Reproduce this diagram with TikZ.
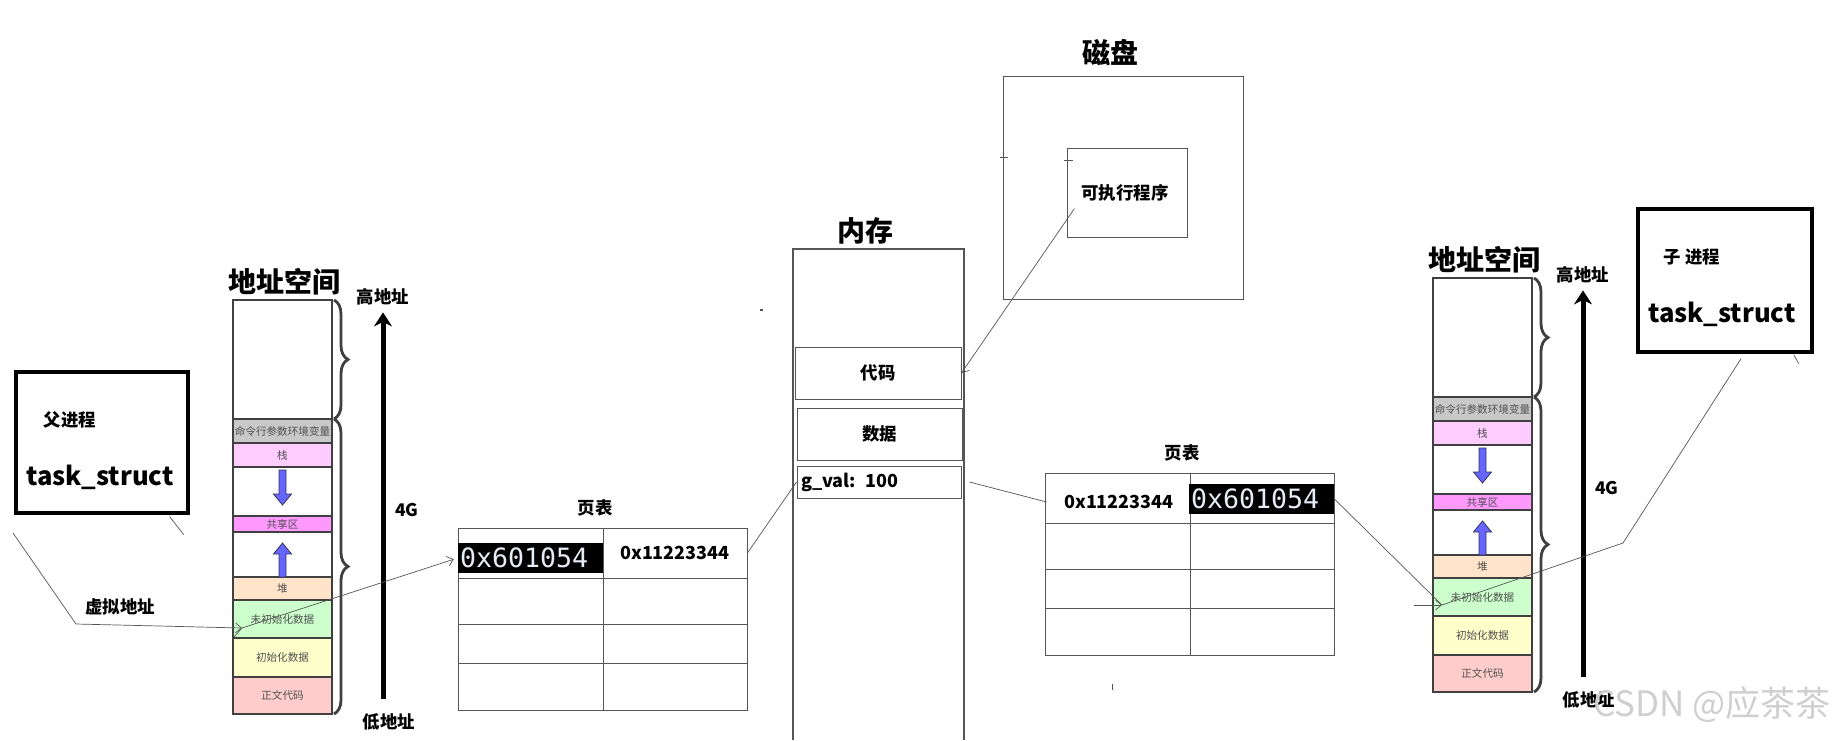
\documentclass[tikz,border=0pt]{standalone}
\usepackage{fontspec}
\setmainfont{Noto Sans CJK SC}
\setmonofont{DejaVu Sans Mono}
\usepackage{tikz}
\usetikzlibrary{positioning,arrows.meta,calc,decorations.pathreplacing}
\definecolor{segline}{HTML}{404040}
\definecolor{segtext}{HTML}{505050}
\definecolor{envgray}{HTML}{C8C8C8}
\definecolor{stackpink}{HTML}{FFCCFF}
\definecolor{sharedpink}{HTML}{FF99FF}
\definecolor{heappeach}{HTML}{FFE4C9}
\definecolor{bssgreen}{HTML}{CCFFCC}
\definecolor{datayellow}{HTML}{FFFFCC}
\definecolor{textred}{HTML}{FFCCCC}
\definecolor{growblue}{HTML}{6666FF}
\definecolor{growedge}{HTML}{33335A}
\definecolor{rule}{HTML}{555555}
\definecolor{hexfg}{HTML}{E6ECF5}
\definecolor{wmgray}{HTML}{CFCFCF}

\tikzset{
  seg/.style={draw=segline,line width=1pt,inner sep=0pt,minimum width=49.5pt,
    font=\fontsize{5.3}{6}\selectfont,text=segtext},
  heading/.style={font=\fontsize{14}{16}\selectfont\bfseries},
  tag/.style={font=\fontsize{8.7}{10}\selectfont\bfseries},
  addr/.style={font=\fontsize{9}{10}\selectfont\bfseries,inner sep=0pt,
    minimum width=72pt,minimum height=25pt},
  bigname/.style={font=\fontsize{12.8}{15}\selectfont\bfseries},
  hex/.style={fill=black,text=hexfg,font=\ttfamily\fontsize{13.3}{15}\selectfont,
    inner xsep=1pt,inner ysep=0pt,text width=70.5pt,align=left,minimum height=15pt},
  link/.style={draw=rule,line width=0.35pt},
  barb/.style={-{Straight Barb[length=3pt,width=5pt]}},
  addrarrow/.style={line width=2.5pt,-{Stealth[length=7pt,width=9pt]}},
  growarrow/.style={fill=growblue,draw=growedge,line width=0.4pt},
  curly/.style={draw=segline,line width=1.4pt,decorate,decoration={brace,amplitude=7pt}},
  taskbox/.style={draw,line width=1.7pt,inner sep=0pt},
  plainbox/.style={draw=rule,line width=0.5pt,inner sep=0pt},
}

\begin{document}
\begin{tikzpicture}[x=0.5pt,y=-0.5pt]

  % canvas
  \fill[white] (0,0) rectangle (1832,740);
  \useasboundingbox (0,0) rectangle (1832,740);

  % address spaces: parent (p) and child (c)
  \foreach \s/\dx/\dy in {p/0/0,c/1200/-22}{
    \node[heading] (\s-title) at ({284+\dx},{282+\dy}) {地址空间};
    \foreach \nm/\ya/\yb/\col/\txt in {
        top/300/419/white/{},
        env/419/443/envgray/命令行参数环境变量,
        stack/443/467/stackpink/栈,
        sgap/467/516/white/{},
        shared/516/532/sharedpink/共享区,
        hgap/532/577/white/{},
        heap/577/600/heappeach/堆,
        bss/600/638/bssgreen/未初始化数据,
        data/638/677/datayellow/初始化数据,
        text/677/714/textred/正文代码}
      \node[seg,fill=\col,minimum height={(\yb-\ya)*0.5pt}] (\s-\nm)
        at ({282.5+\dx},{(\ya+\yb)/2+\dy}) {\txt};

    % stack grows down, heap grows up
    \filldraw[growarrow] ({282.5+\dx},{505+\dy}) -- ++(9,-11) -- ++(-5.5,0) -- ++(0,-24)
      -- ++(-7,0) -- ++(0,24) -- ++(-5.5,0) -- cycle;
    \filldraw[growarrow] ({282.5+\dx},{543+\dy}) -- ++(9,11) -- ++(-5.5,0) -- ++(0,23)
      -- ++(-7,0) -- ++(0,-23) -- ++(-5.5,0) -- cycle;

    % braces
    \draw[curly] ({334+\dx},{300+\dy}) -- ({334+\dx},{419+\dy});
    \draw[curly] ({334+\dx},{419+\dy}) -- ({334+\dx},{714+\dy});

    % address axis
    \node[tag] (\s-hi) at ({383+\dx},{297+\dy}) {高地址};
    \node[tag] (\s-lo) at ({389+\dx},{722+\dy}) {低地址};
    \node[tag] (\s-size) at ({407+\dx},{510+\dy}) {4G};
    \draw[addrarrow,shorten <=4pt] (\s-hi.south |- \s-lo.north) -- (\s-hi.south);
  }

  % page tables
  \foreach \s/\dx/\dy in {l/0/0,r/587/-55}{
    \node[tag] (\s-pttitle) at ({595+\dx},{508+\dy}) {页表};
    \draw[rule,line width=0.5pt] ({458+\dx},{528+\dy}) rectangle ({747+\dx},{710+\dy});
    \draw[rule,line width=0.5pt] ({603+\dx},{528+\dy}) -- ({603+\dx},{710+\dy});
    \foreach \y in {578,624,663}
      \draw[rule,line width=0.5pt] ({458+\dx},{\y+\dy}) -- ({747+\dx},{\y+\dy});
  }
  \node[hex] (lva) at (530.5,558) {0x601054};
  \node[addr] (lpa) at (675,553) {0x11223344};
  \node[addr] (rpa) at (1119,502) {0x11223344};
  \node[hex] (rva) at (1261.5,499) {0x601054};

  % memory
  \node[heading] (memtitle) at (865,231) {内存};
  \draw[rule,line width=0.6pt] (793,740) -- (793,249) -- (964,249) -- (964,740);
  \node[plainbox,tag,minimum width=83pt,minimum height=26pt] (code) at (878,373) {代码};
  \node[plainbox,tag,minimum width=82.5pt,minimum height=26pt] (data) at (879.5,434) {数据};
  \node[plainbox,font=\fontsize{9}{10}\selectfont\bfseries,inner xsep=2pt,text width=78pt,
    align=left,minimum height=16pt] (gval) at (879,482) {g\_val: 100};

  % disk
  \node[heading] (disktitle) at (1110,53) {磁盘};
  \node[plainbox,minimum width=120pt,minimum height=111.5pt] (disk) at (1123,187.5) {};
  \node[plainbox,minimum width=60pt,minimum height=44.5pt] (exebox) at (1127,192.5) {};
  \node[tag] (exe) at (1125,193) {可执行程序};
  \draw[rule,line width=0.4pt] (1000,157) -- (1008,157);
  \draw[rule,line width=0.4pt] (1064,160) -- (1073,160);

  % processes
  \node[taskbox,minimum width=86pt,minimum height=70.5pt] (pbox) at (102,442.5) {};
  \node[tag] (pname) at (70,420) {父进程};
  \node[bigname] (ptask) at (100,477) {task\_struct};
  \node[taskbox,minimum width=87pt,minimum height=71.5pt] (cbox) at (1725,280.5) {};
  \node[tag] (cname) at (1692,257) {子 进程};
  \node[bigname] (ctask) at (1722,314) {task\_struct};
  \node[tag] (vaddr) at (120,607) {虚拟地址};

  % connectors
  \coordinate (pstart) at (13,533);
  \coordinate (pbend) at (76,624);
  \coordinate (pin) at ($(p-bss.west)+(10,9)$);
  \draw[link,barb] (pstart) -- (pbend) -- (pin);
  \draw[link] ($(pbox.south east)+(-20,2)$) -- ++(14,18);
  \draw[link,barb,shorten >=2pt] ($(pin)+(-8,9)$) -- (pin) -- (lva.west);
  \draw[link] (lpa.east) -- (gval.west);
  \draw[link] ($(gval.east)+(8,0)$) -- (rpa.west);
  \draw[link,barb] (exe.south west) -- (code.east);

  \coordinate (cin) at ($(c-bss.west)+(10,8)$);
  \coordinate (cbend) at (1623,543);
  \draw[link] (rva.east) -- (cin);
  \draw[link,barb] ($(cin)+(-28,0)$) -- (cin);
  \draw[link] ($(cbox.south)+(16,5)$) -- (cbend) -- (cin);
  \draw[link] ($(cbox.south east)+(-20,1)$) -- ++(5,9);

  % stray marks
  \fill[rule] (760,309) rectangle (763,311);
  \draw[rule,line width=0.5pt] (1112,684) -- (1112,690);

  % watermark
  \node[font=\fontsize{17.5}{20}\selectfont,text=wmgray] (wm) at (1712,705) {CSDN @应茶茶};

\end{tikzpicture}
\end{document}
